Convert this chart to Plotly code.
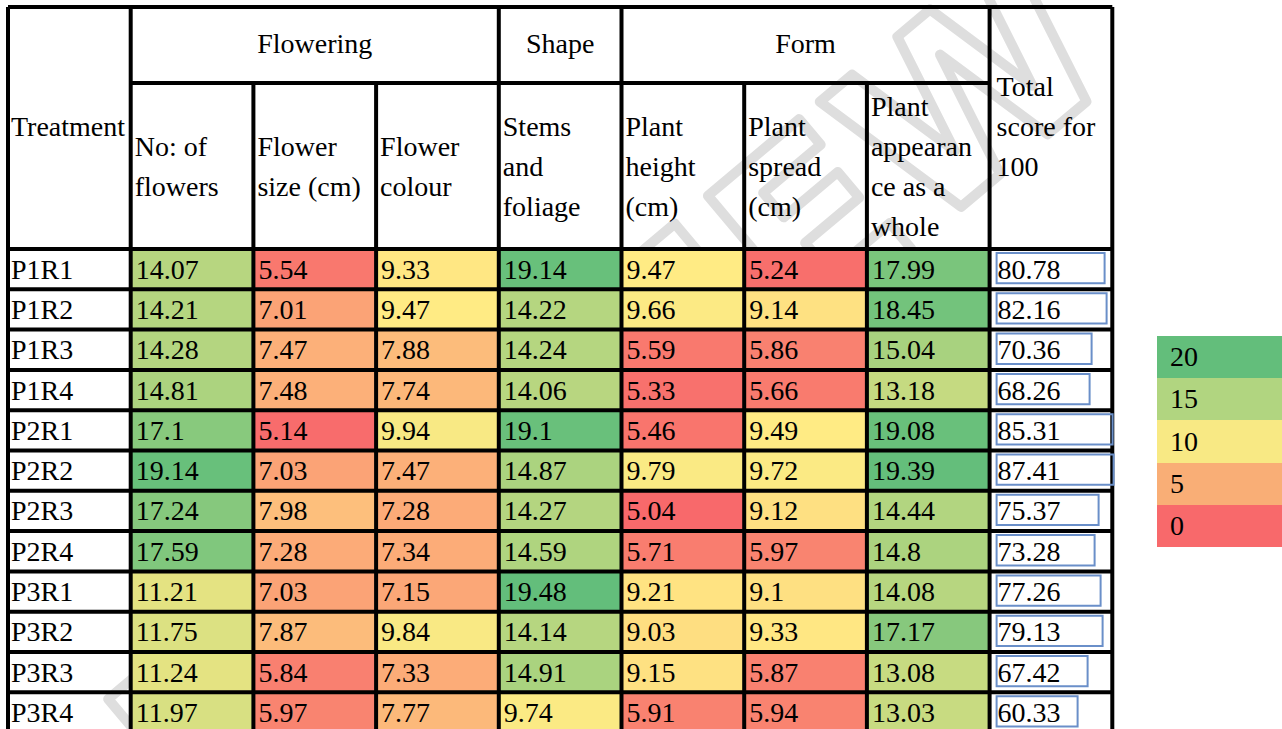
import base64
import numpy as np
import plotly.graph_objects as go

# ---------------- data ----------------
treatments = ["P1R1", "P1R2", "P1R3", "P1R4", "P2R1", "P2R2",
              "P2R3", "P2R4", "P3R1", "P3R2", "P3R3", "P3R4"]
group_headers = ["Flowering", "Shape", "Form"]
group_spans = [3, 1, 3]
sub_headers = [["No: of", "flowers"], ["Flower", "size (cm)"], ["Flower", "colour"],
               ["Stems", "and", "foliage"], ["Plant", "height", "(cm)"],
               ["Plant", "spread", "(cm)"], ["Plant", "appearan", "ce as a", "whole"]]
first_header = "Treatment"
total_header = ["Total", "score for", "100"]

no_of_flowers = [14.07, 14.21, 14.28, 14.81, 17.1, 19.14, 17.24, 17.59, 11.21, 11.75, 11.24, 11.97]
flower_size = [5.54, 7.01, 7.47, 7.48, 5.14, 7.03, 7.98, 7.28, 7.03, 7.87, 5.84, 5.97]
flower_colour = [9.33, 9.47, 7.88, 7.74, 9.94, 7.47, 7.28, 7.34, 7.15, 9.84, 7.33, 7.77]
stems_foliage = [19.14, 14.22, 14.24, 14.06, 19.1, 14.87, 14.27, 14.59, 19.48, 14.14, 14.91, 9.74]
plant_height = [9.47, 9.66, 5.59, 5.33, 5.46, 9.79, 5.04, 5.71, 9.21, 9.03, 9.15, 5.91]
plant_spread = [5.24, 9.14, 5.86, 5.66, 9.49, 9.72, 9.12, 5.97, 9.1, 9.33, 5.87, 5.94]
plant_appearance = [17.99, 18.45, 15.04, 13.18, 19.08, 19.39, 14.44, 14.8, 14.08, 17.17, 13.08, 13.03]
total_score = [80.78, 82.16, 70.36, 68.26, 85.31, 87.41, 75.37, 73.28, 77.26, 79.13, 67.42, 60.33]

legend_values = [20, 15, 10, 5, 0]
legend_colors = ["#F8696B", "#F9AE76", "#F8E984", "#B1D580", "#63BE7B"]  # for 0,5,10,15,20
watermark_text = "PREVIEW"

# ---------------- styling / geometry ----------------
FONT = "Times New Roman, Liberation Serif, serif"
FS = 28
W, H = 1282, 729
TABLE_LEFT = 8
COL_W = 122.7
N_COLS = 9
HEADER_TOP, HEADER_MID, HEADER_BOTTOM = 7, 83, 249
ROW_H = 40.3
LINE_STEP = 40
TEXT_DY = 1
PAD = 4
BORDER_W = 4
BOX_COLOR = "#6A8FC9"
box_widths = [108, 110, 95, 93, 116, 117, 102, 98, 104, 106, 91, 81]
LEG_LEFT, LEG_RIGHT, LEG_TOP, LEG_H = 1157, 1290, 336, 42.2

col_edges = [TABLE_LEFT + COL_W * i for i in range(N_COLS + 1)]
row_edges = [HEADER_BOTTOM + ROW_H * i for i in range(len(treatments) + 1)]
row_centers = [(row_edges[i] + row_edges[i + 1]) / 2 for i in range(len(treatments))]

score_cols = [no_of_flowers, flower_size, flower_colour, stems_foliage,
              plant_height, plant_spread, plant_appearance]
z = np.array(score_cols).T  # rows x cols

zmin, zmax = float(z.min()), float(z.max())
zmid = float(np.percentile(z, 50))
f = (zmid - zmin) / (zmax - zmin)
colorscale = [[0, "#F8696B"], [f, "#FFEB84"], [1, "#63BE7B"]]

fig = go.Figure()

fig.add_trace(go.Heatmap(
    z=z, x=col_edges[1:9], y=row_edges, colorscale=colorscale,
    zmin=zmin, zmax=zmax, showscale=False, hoverinfo="skip"))

leg_edges = [LEG_TOP + LEG_H * i for i in range(len(legend_values) + 1)]
leg_cs = [[v / 20, c] for v, c in zip([0, 5, 10, 15, 20], legend_colors)]
fig.add_trace(go.Heatmap(
    z=[[v] for v in legend_values], x=[LEG_LEFT, LEG_RIGHT], y=leg_edges,
    colorscale=leg_cs, zmin=0, zmax=20, showscale=False, hoverinfo="skip"))

# ---------------- text ----------------
tx, ty, tt, tp = [], [], [], []

def add(x, y, t, pos="middle right"):
    tx.append(x); ty.append(y + TEXT_DY); tt.append(t); tp.append(pos)

c = 1
for name, span in zip(group_headers, group_spans):
    add((col_edges[c] + col_edges[c + span]) / 2, (HEADER_TOP + HEADER_MID) / 2, name, "middle center")
    c += span
add(col_edges[0] + 3, (HEADER_TOP + HEADER_BOTTOM) / 2, first_header)
sub_c = (HEADER_MID + HEADER_BOTTOM) / 2 + 2
for j, lines in enumerate(sub_headers):
    n = len(lines)
    for k, ln in enumerate(lines):
        add(col_edges[j + 1] + PAD, sub_c + (k - (n - 1) / 2) * LINE_STEP, ln)
tot_c = (HEADER_TOP + HEADER_BOTTOM) / 2
for k, ln in enumerate(total_header):
    add(col_edges[8] + PAD + 3, tot_c + (k - 1) * LINE_STEP, ln)
for i, name in enumerate(treatments):
    yc = row_centers[i] + 1.5
    add(col_edges[0] + 3, yc, name)
    for j, col in enumerate(score_cols):
        add(col_edges[j + 1] + PAD + 1, yc, f"{col[i]:g}")
    add(col_edges[8] + PAD + 4, yc, f"{total_score[i]:g}")
for i, v in enumerate(legend_values):
    add(LEG_LEFT + 13, (leg_edges[i] + leg_edges[i + 1]) / 2 + 1, str(v))

fig.add_trace(go.Scatter(x=tx, y=ty, text=tt, mode="text", textposition=tp,
                         textfont=dict(family=FONT, size=FS, color="black"),
                         hoverinfo="skip", cliponaxis=False, showlegend=False))

# ---------------- borders ----------------
shapes = []
def line(x0, y0, x1, y1, color="black", w=BORDER_W):
    shapes.append(dict(type="line", x0=x0, y0=y0, x1=x1, y1=y1, xref="x", yref="y",
                       line=dict(color=color, width=w)))

L, R = col_edges[0], col_edges[-1]
bottom = row_edges[-1]
line(L, HEADER_TOP, R, HEADER_TOP)
line(col_edges[1], HEADER_MID, col_edges[8], HEADER_MID)
for y in row_edges[:-1]:
    line(L, y, R, y)
for j, x in enumerate(col_edges):
    if j in (2, 3, 6, 7):
        line(x, HEADER_MID, x, bottom)
    else:
        line(x, HEADER_TOP, x, bottom)

for i in range(len(treatments)):
    x0 = col_edges[8] + 7
    shapes.append(dict(type="rect", x0=x0, x1=x0 + box_widths[i],
                       y0=row_edges[i] + 4, y1=row_edges[i + 1] - 6, xref="x", yref="y",
                       line=dict(color=BOX_COLOR, width=2), fillcolor="rgba(0,0,0,0)"))

# ---------------- watermark (behind the cells) ----------------
svg = f'''<svg xmlns="http://www.w3.org/2000/svg" width="{W}" height="{H}" viewBox="0 0 {W} {H}">
<text x="610" y="395" font-family="DejaVu Sans" font-weight="bold" font-size="235" fill="none"
 stroke="#dedede" stroke-width="10" stroke-linejoin="round" text-anchor="middle"
 dominant-baseline="central" transform="rotate(-40 610 395)">{watermark_text}</text></svg>'''
wm = "data:image/svg+xml;base64," + base64.b64encode(svg.encode()).decode()

fig.update_layout(
    width=W, height=H, margin=dict(l=0, r=0, t=0, b=0),
    paper_bgcolor="white", plot_bgcolor="rgba(0,0,0,0)",
    xaxis=dict(range=[0, W], visible=False, fixedrange=True),
    yaxis=dict(range=[H, 0], visible=False, fixedrange=True),
    shapes=shapes, showlegend=False,
    images=[dict(source=wm, xref="paper", yref="paper", x=0, y=1, sizex=1, sizey=1,
                 xanchor="left", yanchor="top", sizing="stretch", layer="below")],
)

fig.write_html("out.html", config={"displayModeBar": False},
               post_script="document.body.style.margin='0';document.body.style.overflow='hidden';")
